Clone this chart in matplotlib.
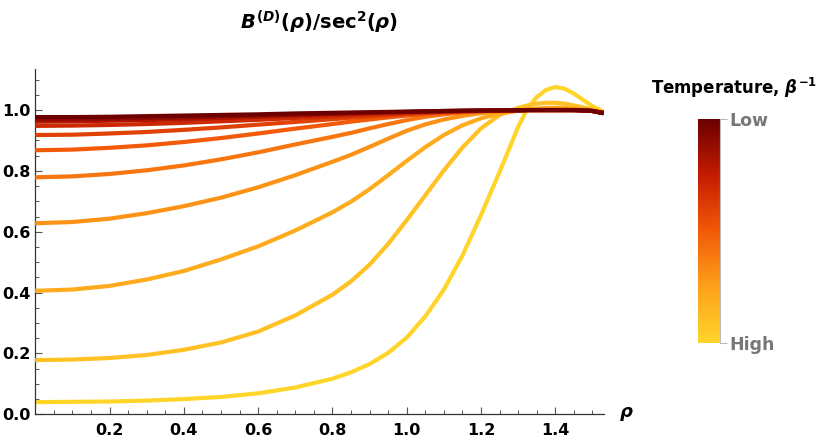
import numpy as np
import matplotlib
matplotlib.use("Agg")
import matplotlib.pyplot as plt
from matplotlib.colors import LinearSegmentedColormap
from matplotlib.ticker import MultipleLocator

plt.rcParams['font.family'] = ['DejaVu Sans']
plt.rcParams['font.weight'] = 'bold'
plt.rcParams['mathtext.fontset'] = 'custom'
plt.rcParams['mathtext.rm'] = 'DejaVu Sans:bold'
plt.rcParams['mathtext.it'] = 'DejaVu Sans:bold:italic'
plt.rcParams['mathtext.bf'] = 'DejaVu Sans:bold'

# rho grid shared by all curves
rho = [0.0, 0.1, 0.2, 0.3, 0.4, 0.5, 0.6, 0.7, 0.8, 0.85, 0.9, 0.95, 1.0, 1.05,
       1.1, 1.15, 1.2, 1.25, 1.3, 1.325, 1.35, 1.375, 1.4, 1.425, 1.45, 1.475, 1.5, 1.53]

# curves ordered from highest temperature (yellow) to lowest (dark red)
c1 = [0.040, 0.041, 0.042, 0.045, 0.050, 0.057, 0.069, 0.088, 0.117, 0.138, 0.165, 0.202, 0.252, 0.322,
      0.410, 0.522, 0.655, 0.797, 0.945, 1.005, 1.043, 1.066, 1.076, 1.070, 1.054, 1.033, 1.013, 0.994]
c2 = [0.178, 0.180, 0.185, 0.195, 0.212, 0.236, 0.272, 0.325, 0.393, 0.437, 0.492, 0.560, 0.638, 0.720,
      0.802, 0.877, 0.940, 0.984, 1.007, 1.015, 1.021, 1.024, 1.024, 1.021, 1.015, 1.009, 1.002, 0.993]
c3 = [0.406, 0.410, 0.422, 0.443, 0.471, 0.509, 0.552, 0.604, 0.664, 0.699, 0.740, 0.786, 0.833, 0.878,
      0.918, 0.950, 0.973, 0.988, 0.998, 1.002, 1.005, 1.007, 1.008, 1.007, 1.005, 1.003, 0.999, 0.992]
c4 = [0.628, 0.632, 0.643, 0.661, 0.684, 0.712, 0.746, 0.786, 0.830, 0.853, 0.879, 0.906, 0.932, 0.953,
      0.969, 0.981, 0.990, 0.995, 0.998, 1.000, 1.001, 1.002, 1.002, 1.002, 1.001, 1.000, 0.997, 0.991]
c5 = [0.779, 0.782, 0.790, 0.802, 0.818, 0.838, 0.861, 0.887, 0.912, 0.925, 0.940, 0.954, 0.967, 0.978,
      0.986, 0.992, 0.996, 0.998, 0.999, 1.000, 1.000, 1.000, 1.000, 1.000, 1.000, 0.999, 0.997, 0.991]
c6 = [0.868, 0.870, 0.876, 0.884, 0.895, 0.908, 0.923, 0.939, 0.954, 0.962, 0.969, 0.976, 0.982, 0.987,
      0.991, 0.994, 0.997, 0.998, 0.999, 1.000, 1.000, 1.000, 1.000, 1.000, 1.000, 0.999, 0.997, 0.991]
c7 = [0.918, 0.919, 0.923, 0.928, 0.935, 0.943, 0.952, 0.961, 0.970, 0.975, 0.979, 0.983, 0.987, 0.990,
      0.993, 0.995, 0.997, 0.998, 0.999, 1.000, 1.000, 1.000, 1.000, 1.000, 1.000, 0.999, 0.997, 0.991]
c8 = [0.948, 0.949, 0.951, 0.954, 0.958, 0.963, 0.968, 0.974, 0.979, 0.982, 0.985, 0.987, 0.990, 0.992,
      0.994, 0.996, 0.997, 0.998, 0.999, 1.000, 1.000, 1.000, 1.000, 1.000, 1.000, 0.999, 0.997, 0.991]
c9 = [0.962, 0.963, 0.965, 0.967, 0.970, 0.974, 0.978, 0.982, 0.986, 0.988, 0.990, 0.992, 0.993, 0.995,
      0.996, 0.997, 0.998, 0.999, 0.999, 1.000, 1.000, 1.000, 1.000, 1.000, 1.000, 0.999, 0.997, 0.990]
c10 = [0.970, 0.971, 0.972, 0.974, 0.976, 0.979, 0.982, 0.985, 0.988, 0.990, 0.991, 0.993, 0.994, 0.996,
       0.997, 0.998, 0.998, 0.999, 0.999, 1.000, 1.000, 1.000, 1.000, 1.000, 1.000, 0.999, 0.997, 0.990]
c11 = [0.977, 0.977, 0.978, 0.980, 0.982, 0.984, 0.986, 0.989, 0.991, 0.992, 0.993, 0.994, 0.995, 0.996,
       0.997, 0.998, 0.999, 0.999, 1.000, 1.000, 1.000, 1.000, 1.000, 1.000, 1.000, 0.999, 0.997, 0.989]
curves = [c1, c2, c3, c4, c5, c6, c7, c8, c9, c10, c11]

x_ticks = [0.2, 0.4, 0.6, 0.8, 1.0, 1.2, 1.4]
y_ticks = [0.0, 0.2, 0.4, 0.6, 0.8, 1.0]
cbar_labels = ['High', 'Low']

solar = LinearSegmentedColormap.from_list(
    'solar', [(0.0, '#ffd52a'), (0.25, '#fea11b'), (0.5, '#f25a08'),
              (0.75, '#c41c00'), (1.0, '#6c0000')])

fig = plt.figure(figsize=(8.3, 4.46), dpi=100)
ax = fig.add_axes([35.2 / 830, 31.7 / 446, 568.8 / 830, 345.3 / 446])

n = len(curves)
for i, c in enumerate(curves):
    ax.plot(rho, c, color=solar(i / (n - 1)), lw=3.0, solid_capstyle='butt',
            solid_joinstyle='round', zorder=2 + i)

ax.set_xlim(0, 1.531)
ax.set_ylim(0, 1.135)
for s in ['top', 'right']:
    ax.spines[s].set_visible(False)
for s in ['left', 'bottom']:
    ax.spines[s].set_color('#333333')
    ax.spines[s].set_linewidth(0.9)

ax.set_xticks(x_ticks)
ax.set_xticklabels([f'{v:.1f}' for v in x_ticks])
ax.set_yticks(y_ticks)
ax.set_yticklabels([f'{v:.1f}' for v in y_ticks])
ax.xaxis.set_minor_locator(MultipleLocator(0.05))
ax.yaxis.set_minor_locator(MultipleLocator(0.05))
ax.tick_params(which='major', direction='in', length=5, width=0.8, color='#555555',
               labelsize=11.5, pad=6)
ax.tick_params(which='minor', direction='in', length=2.8, width=0.7, color='#555555')
ax.tick_params(axis='y', which='major', pad=3)

ax.annotate(r'$\rho$', xy=(1, 0), xycoords='axes fraction', xytext=(11, 0),
            textcoords='offset points', va='center', ha='left', fontsize=13)

fig.text(319.5 / 830, 1 - 22 / 446, r'$B^{(D)}(\rho)/\mathrm{sec}^2(\rho)$',
         ha='center', va='center', fontsize=14)

# colour legend
cax = fig.add_axes([698 / 830, 103 / 446, 22 / 830, 224 / 446])
grad = np.linspace(0, 1, 256).reshape(-1, 1)
cax.imshow(grad, aspect='auto', cmap=solar, origin='lower', extent=(0, 1, 0, 1))
cax.set_xticks([])
for s in ['top', 'left', 'bottom']:
    cax.spines[s].set_visible(False)
cax.spines['right'].set_color('#bbbbbb')
cax.spines['right'].set_linewidth(0.8)
cax.yaxis.tick_right()
cax.set_yticks([0, 1])
cax.set_yticklabels(cbar_labels, color='#777777', fontsize=12.5)
cax.tick_params(axis='y', length=5, width=0.8, color='#bbbbbb', pad=2)
fig.text(734 / 830, 1 - 88 / 446, r'Temperature, $\beta^{-1}$',
         ha='center', va='center', fontsize=12)

fig.savefig('out.png', dpi=100)
